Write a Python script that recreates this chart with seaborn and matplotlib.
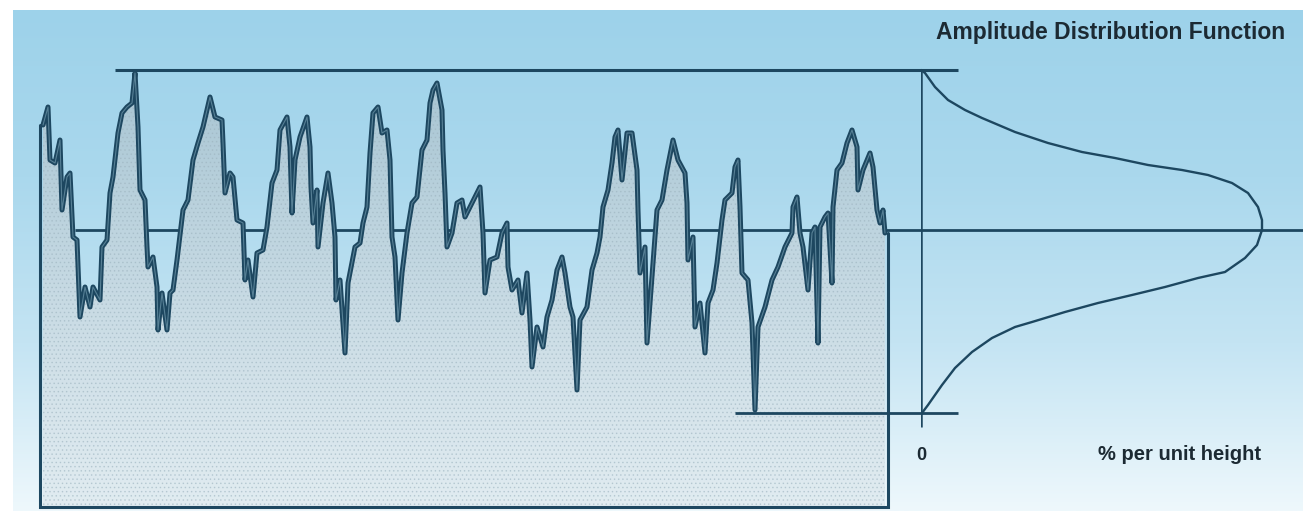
"""
Surface profile with its amplitude distribution function (ADF)
Recreated with seaborn / matplotlib, saved to out.png
"""

import numpy as np
import pandas as pd
import matplotlib.pyplot as plt
from matplotlib.colors import LinearSegmentedColormap
import seaborn as sns

sns.set_theme(style="white")
plt.rcParams["font.family"] = ["Liberation Sans", "DejaVu Sans"]

INK = "#1d4760"
TEXT = "#1c2a33"

# ── Data ────────────────────────────────────────────────────────────────────
# trace position (units along the trace) and surface height (units, mean = 0)
trace_pos = [
    0.3, 0.8, 1.0, 1.5, 2.0, 2.2, 2.7, 3.0, 3.3, 3.7, 4.0, 4.5, 5.0, 5.3,
    6.0, 6.2, 6.7, 7.0, 7.3, 7.8, 8.2, 8.7, 9.2, 9.5, 9.8, 10.0, 10.5, 10.7,
    10.8, 11.3, 11.7, 11.8, 12.2, 12.7, 13.0, 13.3, 13.7, 14.3, 14.8, 15.3,
    15.8, 16.3, 16.7, 17.0, 17.5, 18.2, 18.3, 18.5, 19.0, 19.3, 19.7, 20.3,
    20.5, 20.8, 21.3, 21.7, 22.3, 22.7, 23.2, 23.7, 24.0, 24.7, 25.0, 25.2,
    25.5, 26.0, 26.7, 27.0, 27.1, 27.3, 27.7, 27.8, 28.3, 28.8, 29.2, 29.5,
    29.6, 30.0, 30.5, 30.8, 31.5, 32.0, 32.3, 32.7, 33.0, 33.3, 33.8, 34.2,
    34.7, 35.0, 35.2, 35.5, 35.8, 36.2, 36.7, 37.2, 37.7, 38.2, 38.7, 39.0,
    39.3, 39.7, 40.2, 40.3, 40.5, 40.7, 41.2, 41.7, 42.2, 42.5, 43.0, 43.5,
    44.0, 44.3, 44.5, 45.0, 45.7, 46.2, 46.7, 46.8, 47.2, 47.8, 48.2, 48.7,
    49.0, 49.2, 49.7, 50.3, 50.7, 51.2, 51.7, 52.2, 52.5, 53.0, 53.3, 53.7,
    54.0, 54.7, 55.2, 55.7, 56.0, 56.3, 56.8, 57.2, 57.5, 57.8, 58.2, 58.7,
    59.2, 59.7, 59.8, 60.0, 60.5, 60.7, 61.2, 61.7, 62.2, 62.7, 63.3, 63.8,
    64.5, 64.7, 64.8, 65.3, 65.5, 66.0, 66.5, 66.8, 67.3, 67.7, 68.2, 68.5,
    69.2, 69.5, 69.8, 70.0, 70.2, 70.8, 71.2, 71.5, 71.8, 72.5, 73.2, 73.8,
    74.5, 75.2, 75.3, 75.7, 76.0, 76.3, 76.8, 77.2, 77.5, 77.8, 78.0, 78.5,
    78.8, 79.2, 79.3, 79.7, 80.2, 80.7, 81.2, 81.7, 81.8, 82.3, 83.0, 83.3,
    83.7, 84.0, 84.3, 84.5,
]
height = [
    10.5, 12.3, 7.0, 6.7, 9.0, 2.0, 5.3, 5.7, -0.7, -1.0, -8.7, -5.7, -7.7,
    -5.7, -7.0, -1.7, -1.0, 3.7, 5.3, 9.7, 11.7, 12.3, 12.7, 15.7, 10.3, 4.0,
    3.0, -1.7, -3.7, -2.7, -5.7, -10.0, -6.3, -10.0, -6.3, -6.0, -3.0, 2.0,
    3.0, 7.0, 8.7, 10.3, 12.0, 13.3, 11.3, 11.0, 8.7, 3.7, 5.7, 5.3, 1.0, 0.7,
    -5.0, -3.0, -6.7, -2.3, -2.0, 0.3, 4.7, 6.0, 10.0, 11.3, 8.3, 1.7, 7.0,
    9.3, 11.3, 8.3, 4.3, 0.7, 4.0, -1.7, 2.7, 5.7, 2.7, -0.7, -7.0, -5.0,
    -12.3, -5.3, -1.7, -1.3, 0.7, 2.3, 7.7, 11.7, 12.3, 9.7, 10.0, 7.0, -0.7,
    -2.7, -9.0, -4.3, -0.3, 2.7, 3.3, 8.0, 9.0, 12.7, 14.0, 14.7, 12.0, 8.0,
    3.7, -1.7, -0.3, 2.7, 3.0, 1.3, 2.3, 3.3, 4.3, -0.3, -6.3, -3.0, -2.7,
    -0.3, 0.7, -3.7, -6.0, -5.0, -8.3, -4.3, -9.0, -13.7, -9.7, -11.7, -8.7,
    -7.0, -4.0, -2.7, -4.3, -7.7, -8.7, -16.0, -9.0, -7.7, -4.0, -2.3, -0.7,
    2.3, 4.0, 6.7, 9.3, 10.0, 5.0, 9.7, 9.7, 6.0, 2.0, -4.3, -1.7, -11.3,
    -4.7, 2.0, 3.0, 6.0, 9.0, 7.0, 5.7, 2.7, -3.0, -0.7, -9.7, -7.3, -12.3,
    -7.3, -6.0, -3.3, 1.0, 3.0, 3.7, 6.3, 7.0, 2.3, -4.3, -5.0, -9.3, -18.0,
    -9.7, -7.7, -5.0, -3.7, -1.7, -0.3, 2.3, 3.3, -0.3, -1.7, -6.0, -0.3,
    0.3, -11.3, 0.3, 1.3, 1.7, -5.3, 2.3, 6.0, 6.7, 8.7, 10.0, 8.3, 4.0, 6.0,
    7.7, 6.3, 2.0, 0.7, 2.0, -0.3,
]

# reference levels of the profile (units)
peak_level = 16.0
mean_level = 0.0
valley_level = -18.3
base_level = -27.7

# amplitude distribution function: height vs % per unit height
adf_height = [
    16.0, 15.7, 14.3, 13.0, 12.0, 11.2, 9.8, 8.7, 7.8, 7.2, 6.5, 6.0, 5.5,
    4.7, 3.7, 2.3, 1.0, 0.0, -1.5, -2.8, -4.2, -4.8, -5.7, -6.5, -7.3, -8.2,
    -9.2, -9.7, -10.8, -12.2, -13.8, -15.5, -17.5, -18.3,
]
adf_pct = [
    0.0, 0.08, 0.28, 0.54, 0.88, 1.22, 1.88, 2.54, 3.22, 3.88, 4.54, 5.22,
    5.74, 6.22, 6.54, 6.74, 6.82, 6.82, 6.72, 6.48, 6.08, 5.54, 4.88, 4.22,
    3.54, 2.88, 2.22, 1.88, 1.42, 1.02, 0.68, 0.42, 0.14, 0.02,
]

df_prof = pd.DataFrame({"pos": trace_pos, "height": height})
df_adf = pd.DataFrame({"pct": adf_pct, "height": adf_height})

# ── Figure ──────────────────────────────────────────────────────────────────
fig = plt.figure(figsize=(13.03, 5.11), dpi=100, facecolor="white")

# background sky gradient (white margin on the left / top)
bg = fig.add_axes([13 / 1303, 0, 1 - 13 / 1303, 501 / 511], zorder=0)
sky = LinearSegmentedColormap.from_list(
    "sky", ["#9dd2ea", "#aad8ed", "#c4e4f3", "#eef8fc"])
bg.imshow(np.linspace(0, 1, 256).reshape(-1, 1), cmap=sky,
          aspect="auto", extent=[0, 1, 0, 1])
bg.set_axis_off()

YLIM = (-28.1, 23.0)

ax = fig.add_axes([0, 0, 1, 1], zorder=1)
ax.patch.set_alpha(0)
ax.set_axis_off()

# stippled grey fill under the profile
fill_x = [trace_pos[0]] + trace_pos + [trace_pos[-1]]
fill_h = [base_level] + height + [base_level]
poly = ax.fill(np.array(fill_x), np.array(fill_h),
               facecolor="none", edgecolor="none")[0]
shade = LinearSegmentedColormap.from_list(
    "shade", ["#a6c4d2", "#bcd3de", "#d0e0e8", "#e1ecf1"])
im = ax.imshow(np.linspace(0, 1, 256).reshape(-1, 1), cmap=shade,
               aspect="auto", zorder=2,
               extent=[trace_pos[0], trace_pos[-1], base_level, peak_level])
im.set_clip_path(poly)
plt.rcParams["hatch.linewidth"] = 0.6
ax.fill(fill_x, fill_h, facecolor="none", edgecolor="#9cb3bf",
        hatch="....", linewidth=0, zorder=2.5, alpha=0.5)

# mean line lies behind the fill, reference lines on top
ax.hlines(mean_level, 3.5, 126.3, color=INK, lw=2.0, zorder=1.5)
ax.hlines(peak_level, 7.5, 91.8, color=INK, lw=2.2, zorder=4)
ax.hlines(valley_level, 69.5, 91.8, color=INK, lw=2.0, zorder=4)

# profile trace (thick ink with a lighter core)
sns.lineplot(data=df_prof, x="pos", y="height", sort=False, estimator=None,
             color=INK, lw=3.6, ax=ax, zorder=5)
sns.lineplot(data=df_prof, x="pos", y="height", sort=False, estimator=None,
             color="#7ea7ba", lw=0.8, alpha=0.6, ax=ax, zorder=6)

# box around the shaded profile
ax.plot([0.0, 0.0, 84.8, 84.8], [height[0], base_level, base_level, height[-1]],
        color=INK, lw=2.2, zorder=5, solid_joinstyle="miter")

ax.set_xlim(-4.0, 126.3)
ax.set_ylim(*YLIM)

# amplitude distribution panel
ax2 = fig.add_axes([921 / 1303, 0, 1 - 921 / 1303, 1], zorder=2)
ax2.patch.set_alpha(0)
ax2.set_axis_off()
ax2.vlines(0, -19.7, peak_level, color=INK, lw=1.8)
sns.lineplot(data=df_adf, x="pct", y="height", sort=False, estimator=None,
             color=INK, lw=1.7, ax=ax2)
ax2.set_xlim(0, 7.64)
ax2.set_ylim(*YLIM)

ax2.text(0, -22.5, "0", ha="center", va="center", fontsize=13,
         fontweight="bold", color=TEXT)
ax2.text(5.16, -22.5, "% per unit height", ha="center", va="center",
         fontsize=14.5, fontweight="bold", color=TEXT)
fig.text(936 / 1303, 1 - 32 / 511, "Amplitude Distribution Function",
         ha="left", va="center", fontsize=16.5, fontweight="bold", color=TEXT)

fig.savefig("out.png", dpi=100, facecolor="white")
